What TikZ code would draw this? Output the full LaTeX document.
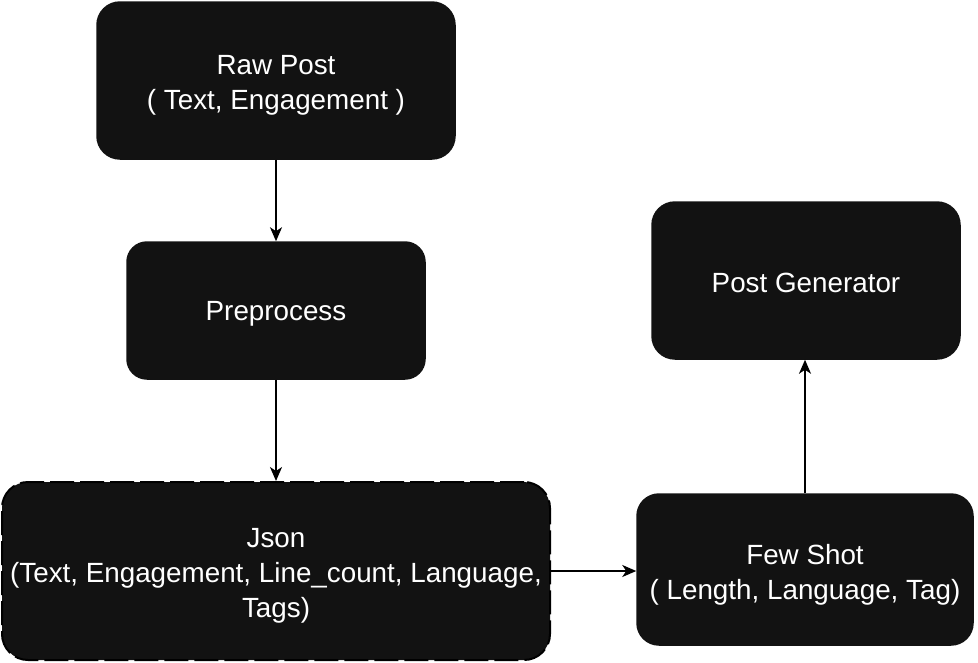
\documentclass[tikz,border=0pt]{standalone}
\usepackage{fontspec}
\setmainfont{Liberation Sans}
\usetikzlibrary{arrows.meta}
\definecolor{boxfill}{HTML}{121212}
\begin{document}
\begin{tikzpicture}[x=1pt,y=-1pt,
  box/.style={fill=boxfill, draw=boxfill, line width=1.5pt, inner sep=0pt, rounded corners=#1},
  dashbox/.style={box=#1, draw=black, line width=2pt, dash pattern=on 24pt off 6pt},
  txt/.style={text=white, align=center, font=\fontsize{27.8}{35}\selectfont, inner sep=0pt},
  conn/.style={line width=2pt, draw=black, -{Stealth[length=14pt,width=12pt,inset=4pt]}}]
\useasboundingbox (0,0) rectangle (978,662);
\node[box=23, minimum width=358pt, minimum height=157pt] (raw) at (276,80.5) {};
\node[box=20, minimum width=298pt, minimum height=137pt] (pre) at (276,310.5) {};
\node[dashbox=26, minimum width=548pt, minimum height=178pt] (json) at (276,571) {};
\node[box=22, minimum width=336pt, minimum height=151pt] (few) at (805,569.5) {};
\node[box=23, minimum width=308pt, minimum height=157pt] (gen) at (806,280.5) {};
\node[txt] (rawt) at ([yshift=-4.5pt]raw.center) {Raw Post\\( Text, Engagement )};
\node[txt] (pret) at ([yshift=-3.5pt]pre.center) {Preprocess};
\node[txt] (jsont) at ([yshift=-4.5pt]json.center) {Json\\(Text, Engagement, Line\_count, Language,\\Tags)};
\node[txt] (fewt) at ([yshift=-5.5pt]few.center) {Few Shot\\( Length, Language, Tag)};
\node[txt] (gent) at ([yshift=-2pt]gen.center) {Post Generator};
\draw[conn] (raw.south) -- (pre.north);
\draw[conn] (pre.south) -- (json.north);
\draw[conn] (json.east) -- (json.east -| few.west);
\draw[conn] (few.north) -- (few.north |- gen.south);
\end{tikzpicture}
\end{document}
